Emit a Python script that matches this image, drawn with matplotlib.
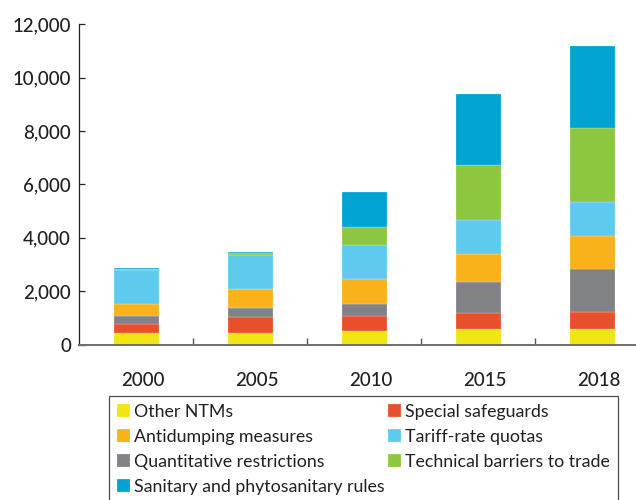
import matplotlib
matplotlib.use("Agg")
import matplotlib.pyplot as plt
import numpy as np
from matplotlib.transforms import ScaledTranslation

years = ["2000", "2005", "2010", "2015", "2018"]
other_ntms = [430, 445, 505, 570, 570]
special_safeguards = [326, 577, 563, 600, 660]
quantitative_restrictions = [312, 360, 461, 1163, 1613]
antidumping = [461, 701, 915, 1072, 1226]
tariff_rate_quotas = [1275, 1264, 1275, 1264, 1263]
technical_barriers = [10, 75, 698, 2074, 2798]
sanitary_phyto = [42, 49, 1312, 2651, 3052]

series = [
    ("Other NTMs", other_ntms, "#F0E614"),
    ("Special safeguards", special_safeguards, "#E8502B"),
    ("Quantitative restrictions", quantitative_restrictions, "#818285"),
    ("Antidumping measures", antidumping, "#F9B21A"),
    ("Tariff-rate quotas", tariff_rate_quotas, "#5ECBEE"),
    ("Technical barriers to trade", technical_barriers, "#8DC63F"),
    ("Sanitary and phytosanitary rules", sanitary_phyto, "#00A4D3"),
]

plt.rcParams['font.family'] = ['Lato', 'DejaVu Sans']
fig = plt.figure(figsize=(6.36, 5.0), dpi=100)
ax = fig.add_axes([79.3/636, 1-344.5/500, 1-79.3/636, (344.5-24.3)/500])

x = np.arange(len(years))
bottom = np.zeros(len(years))
handles = {}
for name, vals, col in series:
    b = ax.bar(x, vals, 0.40, bottom=bottom, color=col, edgecolor=(1, 1, 1, 0.5),
               linewidth=0.3, label=name)
    handles[name] = b
    bottom += np.array(vals)

ax.set_ylim(0, 12000)
ax.set_xlim(-0.5, (636-79.3)/114 - 0.5)
ax.set_yticks(np.arange(0, 12001, 2000))
ax.set_yticklabels([f"{v:,}" for v in range(0, 12001, 2000)])
ax.set_xticks(x)
ax.set_xticklabels(years)
ax.set_xticks(np.arange(0.5, 4, 1), minor=True)
ax.tick_params(axis='x', which='major', length=0, pad=20, labelsize=13.5, colors="#231F20")
ax.tick_params(axis='x', which='minor', direction='in', length=5, width=1, color="#555555")
ax.tick_params(axis='y', direction='in', length=4.5, width=0.9, pad=6, labelsize=13.5,
               colors="#231F20")
for lab in ax.get_xticklabels():
    lab.set_transform(lab.get_transform() + ScaledTranslation(7/100, 0, fig.dpi_scale_trans))
for lab in ax.get_xticklabels() + ax.get_yticklabels():
    lab.set_fontweight('medium')

for s in ["top", "right"]:
    ax.spines[s].set_visible(False)
ax.spines["left"].set_color("#231F20")
ax.spines["left"].set_linewidth(0.9)
ax.spines["bottom"].set_color("#6d6e70")
ax.spines["bottom"].set_linewidth(1.4)

order = ["Other NTMs", "Antidumping measures", "Quantitative restrictions",
         "Sanitary and phytosanitary rules", "Special safeguards", "Tariff-rate quotas",
         "Technical barriers to trade"]
leg = fig.legend([handles[n] for n in order], order, ncol=2, loc='upper left',
                 bbox_to_anchor=(108.5/636, 1-396/500), fontsize=12.8, frameon=True,
                 fancybox=False, handlelength=0.75, handleheight=0.75, handletextpad=0.25,
                 columnspacing=0.15, borderpad=0.45, labelspacing=0.5, borderaxespad=0)
leg.get_frame().set_edgecolor("#231F20")
leg.get_frame().set_linewidth(0.9)
for t in leg.get_texts():
    t.set_color("#231F20")

fig.savefig("out.png", dpi=100)
